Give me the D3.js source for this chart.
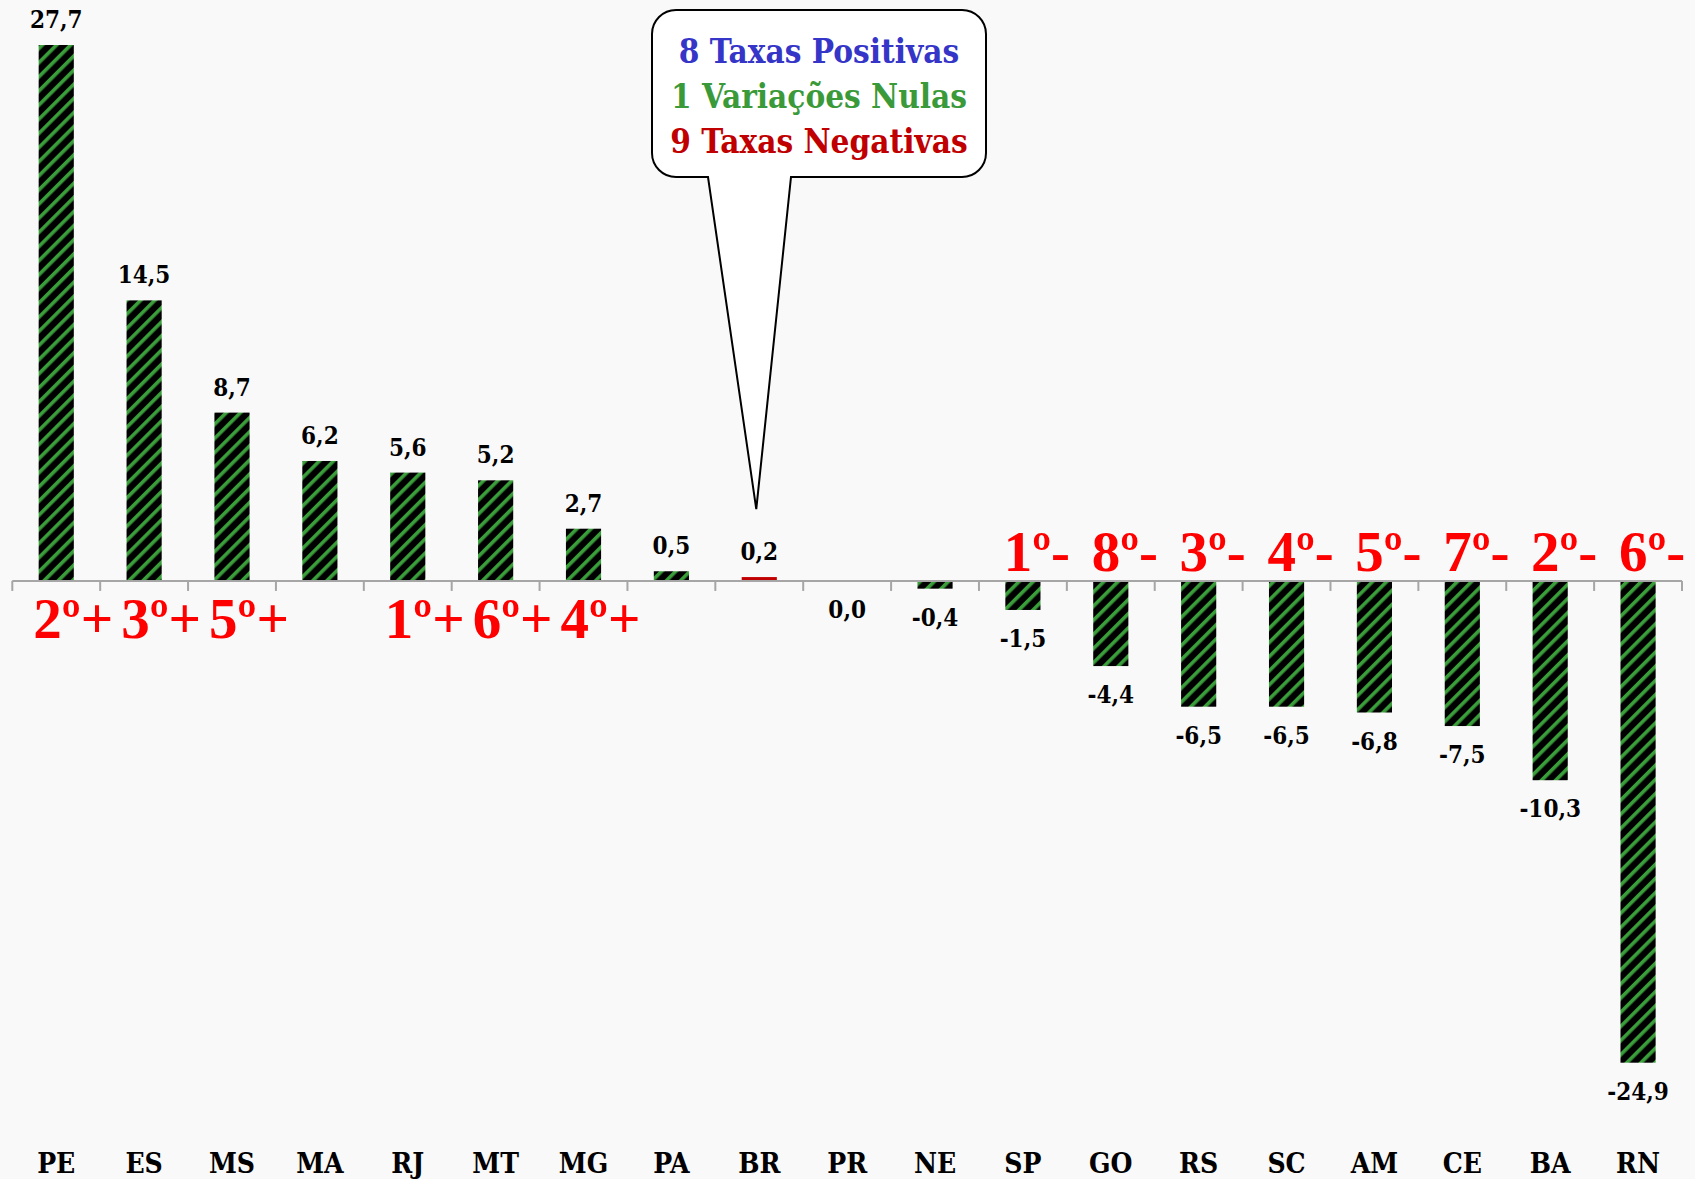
<!DOCTYPE html>
<html>
<head>
<meta charset="utf-8">
<script src="https://cdn.jsdelivr.net/npm/d3@7"></script>
<style>
  html, body { margin: 0; padding: 0; background: #f9f9f9; }
  .lbl { font-family: "DejaVu Serif Condensed", "DejaVu Serif", serif; font-stretch: condensed; font-weight: bold; }
  .rank { font-family: "Liberation Serif", "Times New Roman", serif; font-weight: bold; }
</style>
</head>
<body>
<svg id="chart" width="1695" height="1179"></svg>
<script>
const categories = ["PE","ES","MS","MA","RJ","MT","MG","PA","BR","PR","NE","SP","GO","RS","SC","AM","CE","BA","RN"];
const values = [27.7, 14.5, 8.7, 6.2, 5.6, 5.2, 2.7, 0.5, 0.2, 0.0, -0.4, -1.5, -4.4, -6.5, -6.5, -6.8, -7.5, -10.3, -24.9];
const ranks = ["2º+","3º+","5º+","","1º+","6º+","4º+","","","","","1º-","8º-","3º-","4º-","5º-","7º-","2º-","6º-"];
const bubble_lines = ["8 Taxas Positivas", "1 Variações Nulas", "9 Taxas Negativas"];
const bubble_colors = ["#3535c8", "#3a9a3a", "#c00000"];

const width = 1695;
const height = 1179;
const svg = d3.select("#chart");

svg.append("rect").attr("width", width).attr("height", height).attr("fill", "#f9f9f9");

// hatch for the bars
const defs = svg.append("defs");
const pat = defs.append("pattern")
    .attr("id", "hatch")
    .attr("patternUnits", "userSpaceOnUse")
    .attr("width", 10)
    .attr("height", 10)
    .attr("patternTransform", "rotate(-45)");
pat.append("rect").attr("width", 10).attr("height", 10).attr("fill", "#000");
pat.append("rect").attr("x", 0).attr("y", 0).attr("width", 10).attr("height", 3.6).attr("fill", "#3a9f3a");

const x = d3.scaleBand()
    .domain(categories)
    .range([12.3, 1682])
    .paddingInner(0.6)
    .paddingOuter(0.3);

// band boundaries for the ticks
const step = x.step();
const x0 = 12.3;

const y = d3.scaleLinear()
    .domain([-24.9, 27.7])
    .range([1062.7, 45]);

const data = categories.map((c, i) => ({ cat: c, v: values[i], rank: ranks[i] }));

// bars
svg.append("g")
    .selectAll("rect")
    .data(data)
    .join("rect")
    .attr("x", d => x(d.cat))
    .attr("width", x.bandwidth())
    .attr("y", d => y(Math.max(0, d.v)))
    .attr("height", d => Math.abs(y(d.v) - y(0)))
    .attr("fill", d => d.cat === "BR" ? "#c00000" : "url(#hatch)");

// axis line + ticks
const axis = svg.append("g");
axis.append("line")
    .attr("x1", x0).attr("x2", x0 + step * categories.length)
    .attr("y1", y(0)).attr("y2", y(0))
    .attr("stroke", "#a6a6a6").attr("stroke-width", 2);
axis.selectAll(".tick")
    .data(d3.range(categories.length + 1))
    .join("line")
    .attr("x1", i => x0 + i * step).attr("x2", i => x0 + i * step)
    .attr("y1", y(0)).attr("y2", y(0) + 10)
    .attr("stroke", "#a6a6a6").attr("stroke-width", 2);

const fmt = v => v.toFixed(1).replace(".", ",");
const cx = d => x(d.cat) + x.bandwidth() / 2;

// value labels
svg.append("g")
    .selectAll("text")
    .data(data)
    .join("text")
    .attr("class", "lbl")
    .attr("x", cx)
    .attr("y", d => d.v > 0 ? y(d.v) - 17 : y(d.v) + 37)
    .attr("text-anchor", "middle")
    .attr("font-size", 24)
    .attr("fill", "#000")
    .text(d => fmt(d.v));

// category labels
svg.append("g")
    .selectAll("text")
    .data(data)
    .join("text")
    .attr("class", "lbl")
    .attr("x", cx)
    .attr("y", 1173)
    .attr("text-anchor", "middle")
    .attr("font-size", 28)
    .attr("fill", "#000")
    .text(d => d.cat);

// ranking labels
svg.append("g")
    .selectAll("text")
    .data(data.filter(d => d.rank !== ""))
    .join("text")
    .attr("class", "rank")
    .attr("x", d => cx(d) + (d.v > 0 ? 17 : 14))
    .attr("y", d => d.v > 0 ? 638 : 571)
    .attr("text-anchor", "middle")
    .attr("font-size", 57)
    .attr("fill", "#ff0000")
    .text(d => d.rank);

// speech bubble pointing at BR
const bx0 = 652, bx1 = 986, by0 = 10, by1 = 177, r = 24;
const tipX = cx(data[8]) - 3, tipY = y(0.2) - 68;
const tl = 708, tr = 791;
const p = d3.path();
p.moveTo(bx0 + r, by0);
p.lineTo(bx1 - r, by0);
p.arcTo(bx1, by0, bx1, by0 + r, r);
p.lineTo(bx1, by1 - r);
p.arcTo(bx1, by1, bx1 - r, by1, r);
p.lineTo(tr, by1);
p.lineTo(tipX, tipY);
p.lineTo(tl, by1);
p.lineTo(bx0 + r, by1);
p.arcTo(bx0, by1, bx0, by1 - r, r);
p.lineTo(bx0, by0 + r);
p.arcTo(bx0, by0, bx0 + r, by0, r);
p.closePath();
svg.append("path")
    .attr("d", p.toString())
    .attr("fill", "#fff")
    .attr("stroke", "#000")
    .attr("stroke-width", 2);

svg.append("g")
    .selectAll("text")
    .data(bubble_lines)
    .join("text")
    .attr("class", "lbl")
    .attr("x", (bx0 + bx1) / 2)
    .attr("y", (d, i) => 63 + i * 45)
    .attr("text-anchor", "middle")
    .attr("font-size", 33)
    .attr("fill", (d, i) => bubble_colors[i])
    .text(d => d);
</script>
</body>
</html>
